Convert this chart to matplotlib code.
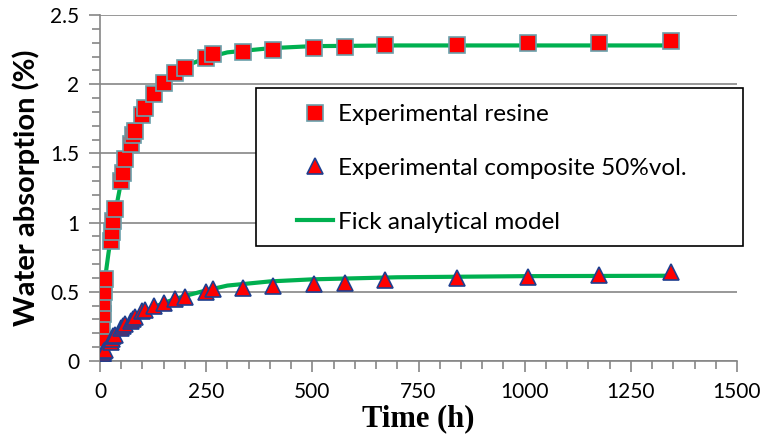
import matplotlib
matplotlib.use("Agg")
import matplotlib.pyplot as plt
from matplotlib.patches import Rectangle
from matplotlib.ticker import MultipleLocator

# measured points (time in hours, absorption in %)
time_h = [0, 2, 4, 5.5, 7, 8, 9.5, 12, 26, 27.5, 31, 35, 49, 53, 59, 72, 77, 83,
          100, 107, 128, 151, 176, 199, 249, 267, 336, 408, 504, 576, 672, 840,
          1008, 1176, 1344]
resine = [0, 0.08, 0.16, 0.25, 0.34, 0.42, 0.50, 0.59, 0.87, 0.93, 1.01, 1.10,
          1.30, 1.36, 1.46, 1.57, 1.63, 1.66, 1.78, 1.83, 1.93, 2.01, 2.08, 2.12,
          2.19, 2.22, 2.23, 2.25, 2.26, 2.27, 2.28, 2.285, 2.30, 2.30, 2.31]
composite = [0, 0.02, 0.03, 0.04, 0.05, 0.06, 0.07, 0.08, 0.14, 0.16, 0.18, 0.19,
             0.24, 0.25, 0.27, 0.29, 0.30, 0.32, 0.36, 0.37, 0.40, 0.42, 0.45, 0.465,
             0.50, 0.52, 0.525, 0.54, 0.555, 0.565, 0.585, 0.60, 0.61, 0.62, 0.64]

# Fick model curves
model_t = [0, 2, 5, 10, 20, 30, 50, 75, 100, 150, 200, 250, 300, 400, 500, 700, 1000, 1344]
model_resine = [0, 0.12, 0.30, 0.55, 0.78, 0.98, 1.30, 1.60, 1.80, 2.02, 2.13, 2.19,
                2.23, 2.26, 2.275, 2.28, 2.28, 2.28]
model_composite = [0, 0.02, 0.04, 0.08, 0.13, 0.17, 0.24, 0.30, 0.35, 0.42, 0.47, 0.51,
                   0.545, 0.575, 0.59, 0.605, 0.613, 0.616]

labels = ["Experimental resine", "Experimental composite 50%vol.", "Fick analytical model"]

W, H = 767, 436
fig = plt.figure(figsize=(W / 100, H / 100), dpi=100)
ax = fig.add_axes([100 / W, 1 - 361 / H, 637 / W, 346 / H])

green = "#00B050"
ln, = ax.plot(model_t, model_resine, color=green, lw=3, zorder=2)
ax.plot(model_t, model_composite, color=green, lw=3, zorder=2)
sq, = ax.plot(time_h, resine, ls="none", marker="s", ms=11, mfc="red",
              mec="#6A9FAA", mew=1.2, zorder=3)
tr, = ax.plot(time_h, composite, ls="none", marker="^", ms=12, mfc="red",
              mec="#1F3F8F", mew=1.2, zorder=4)

ax.set_xlim(0, 1500)
ax.set_ylim(0, 2.5)
ax.xaxis.set_major_locator(MultipleLocator(250))
ax.xaxis.set_minor_locator(MultipleLocator(50))
ax.yaxis.set_major_locator(MultipleLocator(0.5))
ax.yaxis.set_minor_locator(MultipleLocator(0.1))
ax.yaxis.set_major_formatter(plt.FuncFormatter(lambda v, p: "%g" % v))

ax.grid(axis="y", which="major", color="#868686", lw=1.2)
ax.set_axisbelow(True)
for s in ["top", "right"]:
    ax.spines[s].set_visible(False)
for s in ["left", "bottom"]:
    ax.spines[s].set_color("#868686")
    ax.spines[s].set_linewidth(1.2)

ax.tick_params(which="both", direction="out", color="#868686", width=1.2)
ax.tick_params(which="major", length=8, labelsize=15, pad=7)
ax.tick_params(which="minor", length=6)
for t in ax.get_xticklabels() + ax.get_yticklabels():
    t.set_fontfamily("Lato")

ax.set_xlabel("Time (h)", fontfamily="Liberation Serif", fontweight="bold",
              fontsize=22, labelpad=2)
ax.set_ylabel("Water absorption (%)", fontfamily="Lato", fontweight="bold",
              fontsize=21, labelpad=7)

# legend frame
fig.add_artist(Rectangle((256 / W, 1 - 246 / H), 487 / W, 158 / H,
                         transform=fig.transFigure, facecolor="white",
                         edgecolor="black", lw=1.2, zorder=4))
leg = fig.legend([sq, tr, ln], labels, loc="upper left",
                 bbox_to_anchor=(297 / W, 1 - 104 / H), frameon=False,
                 prop={"family": "Lato", "size": 17.5}, handlelength=1.5,
                 handletextpad=0.2, labelspacing=1.35, borderpad=0,
                 borderaxespad=0)
leg.set_zorder(5)

fig.savefig("out.png", dpi=100)
